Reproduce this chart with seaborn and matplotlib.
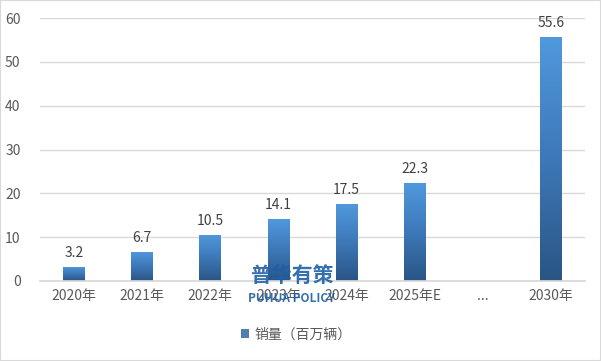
import matplotlib
matplotlib.use("Agg")
import matplotlib.pyplot as plt
import seaborn as sns
import numpy as np
import pandas as pd
from matplotlib.colors import LinearSegmentedColormap

categories = ["2020年", "2021年", "2022年", "2023年", "2024年", "2025年E", "...", "2030年"]
values = [3.2, 6.7, 10.5, 14.1, 17.5, 22.3, np.nan, 55.6]
labels = ["3.2", "6.7", "10.5", "14.1", "17.5", "22.3", "", "55.6"]
series_name = "销量（百万辆）"

sns.set_theme(style="white")
plt.rcParams['font.family'] = ['Noto Sans CJK SC', 'DejaVu Sans']

df = pd.DataFrame({"cat": categories, "val": values})

fig = plt.figure(figsize=(6.01, 3.61), dpi=100)
ax = fig.add_axes([40/601, 80/361, 545/601, 263/361])

sns.barplot(data=df, x="cat", y="val", ax=ax, width=0.32, color="#3f7fc0",
            label=series_name, linewidth=0)

cmap = LinearSegmentedColormap.from_list("g", ["#2a5585", "#3d78b8", "#5099dd"])
grad = np.linspace(0, 1, 256).reshape(-1, 1)
for p in ax.patches:
    h = p.get_height()
    if not np.isfinite(h) or h <= 0:
        continue
    x0 = p.get_x(); w = p.get_width()
    im = ax.imshow(grad, extent=[x0, x0 + w, 0, h], origin="lower", cmap=cmap,
                   aspect="auto", zorder=p.get_zorder() + 0.1)
    im.set_clip_path(p)

for i, (v, lab) in enumerate(zip(values, labels)):
    if lab:
        ax.text(i, v + 1.6, lab, ha="center", va="bottom", fontsize=10, color="#404040")

ax.set_xlim(-0.5, len(categories) - 0.5)
ax.set_ylim(0, 60)
ax.set_yticks(range(0, 61, 10))
ax.yaxis.grid(True, color="#d9d9d9", linewidth=1)
ax.set_axisbelow(True)
for s in ["top", "right", "left"]:
    ax.spines[s].set_visible(False)
ax.spines["bottom"].set_color("#d9d9d9")
ax.tick_params(axis="both", length=0, labelsize=10, labelcolor="#595959")
ax.tick_params(axis="y", pad=14)
ax.tick_params(axis="x", pad=6)
ax.set_xlabel("")
ax.set_ylabel("")

leg = ax.legend(loc="upper center", bbox_to_anchor=(0.47, -0.13), frameon=False,
                fontsize=10, handlelength=0.6, handleheight=0.6, handletextpad=0.4)
for t in leg.get_texts():
    t.set_color("#595959")

fig.text(292/601, 1 - 275/361, "普华有策", ha="center", va="center", fontsize=15,
         fontweight="bold", color="#1f5fa8", alpha=0.9)
fig.text(292/601, 1 - 298/361, "PUHUA POLICY", ha="center", va="center", fontsize=8.5,
         fontweight="bold", color="#1f5fa8", alpha=0.9)

fig.patches.append(plt.Rectangle((0, 0), 1, 1, transform=fig.transFigure, fill=False,
                                 edgecolor="#d9d9d9", linewidth=1.5))

fig.savefig("out.png", dpi=100)
